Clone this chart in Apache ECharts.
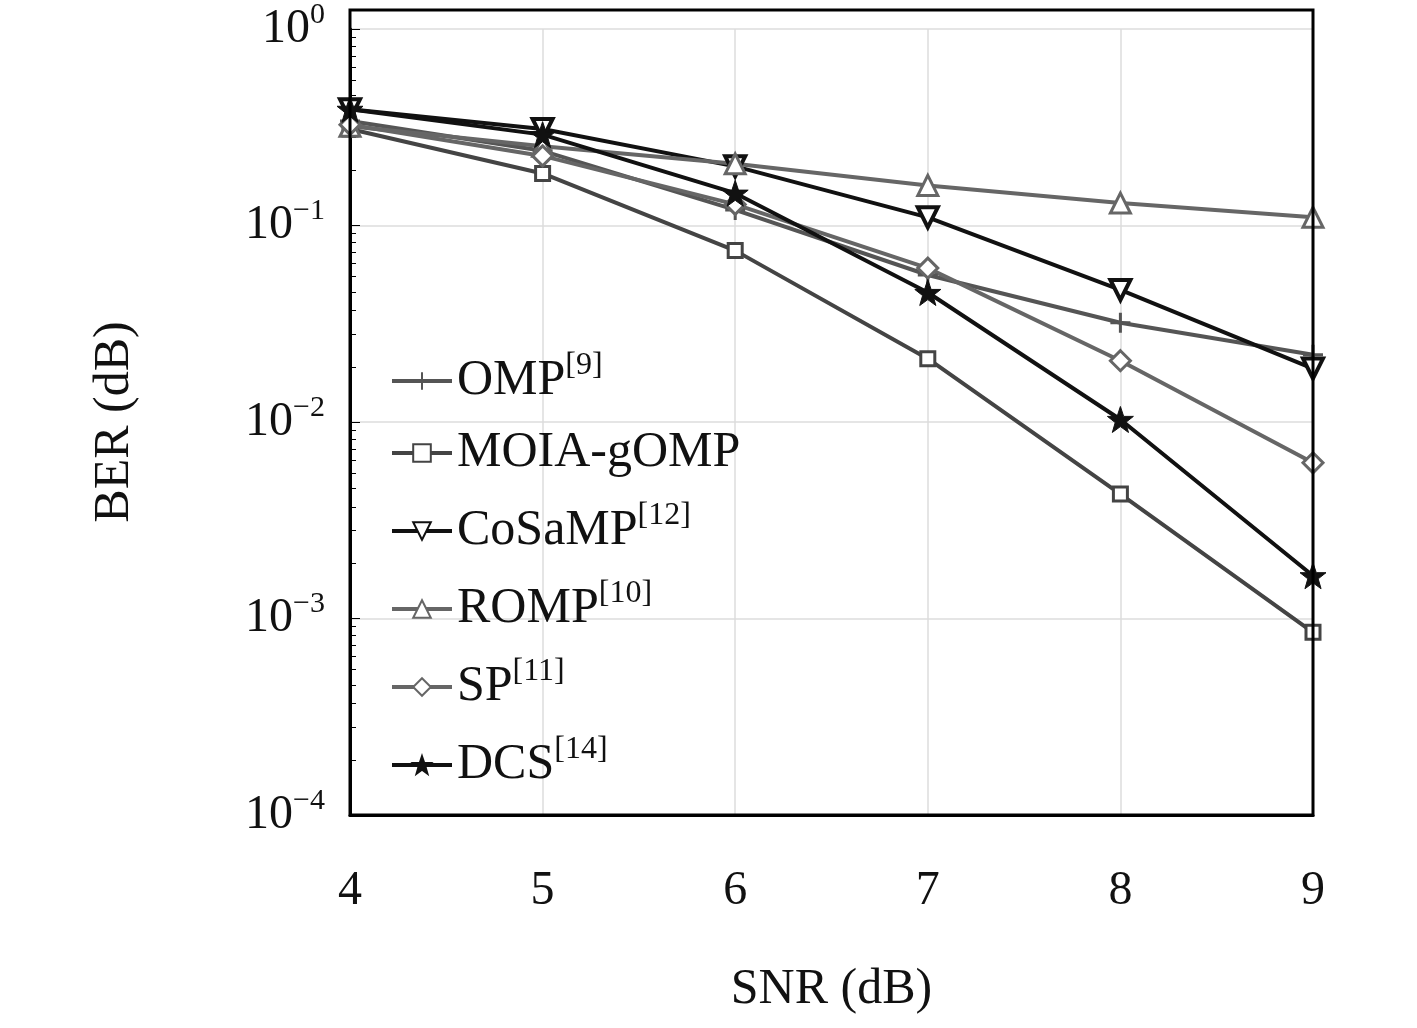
<!DOCTYPE html>
<html><head><meta charset="utf-8">
<script src="https://cdn.jsdelivr.net/npm/echarts@6/dist/echarts.min.js"></script>
<style>html,body{margin:0;background:#fff}#chart{width:1417px;height:1028px}</style>
</head><body><div id="chart"></div>
<script>
var snr = [4, 5, 6, 7, 8, 9];
var yTicks = [1, 0.1, 0.01, 0.001, 0.0001];
var omp = [0.34, 0.24, 0.12, 0.056, 0.032, 0.022];
var moia = [0.31, 0.184, 0.0745, 0.021, 0.0043, 0.00085];
var cosamp = [0.39, 0.31, 0.2, 0.11, 0.047, 0.0187];
var romp = [0.32, 0.253, 0.206, 0.16, 0.13, 0.11];
var sp = [0.326, 0.226, 0.128, 0.0607, 0.0205, 0.0062];
var dcs = [0.39, 0.29, 0.146, 0.0456, 0.0103, 0.00165];

var plus = 'path://M0,-10V10M-10,0H10';
var star = 'path://M0,-10L2.4,-3.1L9.5,-3.1L3.8,1.2L5.9,8.1L0,4L-5.9,8.1L-3.8,1.2L-9.5,-3.1L-2.4,-3.1Z';
var font = "'Liberation Serif','DejaVu Serif',serif";

var chart = echarts.init(document.getElementById('chart'));

function mk(name, data, color, symbol, size, opts) {
    var s = {
        name: name, type: 'line', data: snr.map(function (x, i) { return [x, data[i]]; }),
        symbol: symbol, symbolSize: size,
        lineStyle: { color: color, width: 4 },
        itemStyle: { color: '#fff', borderColor: color, borderWidth: 3 }
    };
    return Object.assign(s, opts || {});
}

var supers = { 'OMP': '9', 'CoSaMP': '12', 'ROMP': '10', 'SP': '11', 'DCS': '14' };

option = {
    animation: false,
    grid: { left: 350, top: 10, width: 963, height: 805 },
    xAxis: {
        type: 'value', min: 4, max: 9, interval: 1,
        name: 'SNR (dB)', nameLocation: 'middle', nameGap: 150,
        nameTextStyle: { fontSize: 50, fontFamily: font, color: '#111' },
        axisLine: { lineStyle: { color: '#000', width: 3 } },
        axisTick: { show: false },
        axisLabel: { fontSize: 48, fontFamily: font, color: '#111', margin: 52 },
        splitLine: { lineStyle: { color: '#ddd', width: 1.5 } }
    },
    yAxis: {
        type: 'log', min: 0.0001, max: 1, logBase: 10,
        name: 'BER (dB)', nameLocation: 'middle', nameGap: 210,
        nameTextStyle: { fontSize: 50, fontFamily: font, color: '#111' },
        axisLine: { lineStyle: { color: '#000', width: 3 } },
        axisTick: { show: true, inside: true, length: 10 },
        minorTick: { show: true, splitNumber: 10, length: 6 },
        axisLabel: {
            margin: 25, fontFamily: font, color: '#111',
            formatter: function (v) { return '{b|10}{s|' + Math.round(Math.log10(v)).toString().replace('-', '\u2212') + '}'; },
            rich: { b: { fontSize: 48, fontFamily: font }, s: { fontSize: 30, fontFamily: font, verticalAlign: 'top', padding: [0, 0, 28, 0] } }
        },
        splitLine: { lineStyle: { color: '#ddd', width: 1.5 } }
    },
    graphic: [{ type: 'rect', shape: { x: 350, y: 10, width: 963, height: 805 }, style: { fill: 'none', stroke: '#000', lineWidth: 3 }, z: 100 }],
    legend: {
        orient: 'vertical', left: 385, top: 345, itemGap: 22, itemWidth: 60, itemHeight: 22,
        lineStyle: { width: 4 },
        formatter: function (n) { return supers[n] ? n + '{s|[' + supers[n] + ']}' : n; },
        textStyle: {
            fontSize: 50, fontFamily: font, color: '#111',
            rich: { s: { fontSize: 32, fontFamily: font, color: '#111', verticalAlign: 'top', padding: [0, 0, 30, 0] } }
        }
    },
    series: [
        mk('OMP', omp, '#555', plus, 20),
        mk('MOIA-gOMP', moia, '#444', 'rect', 14),
        mk('CoSaMP', cosamp, '#111', 'triangle', 20, { symbolRotate: 180, itemStyle: { color: '#fff', borderColor: '#111', borderWidth: 4 } }),
        mk('ROMP', romp, '#666', 'triangle', 20),
        mk('SP', sp, '#666', 'diamond', 20),
        mk('DCS', dcs, '#111', star, 26, { itemStyle: { color: '#111', borderColor: '#111', borderWidth: 1 } })
    ]
};
chart.setOption(option);
</script></body></html>
